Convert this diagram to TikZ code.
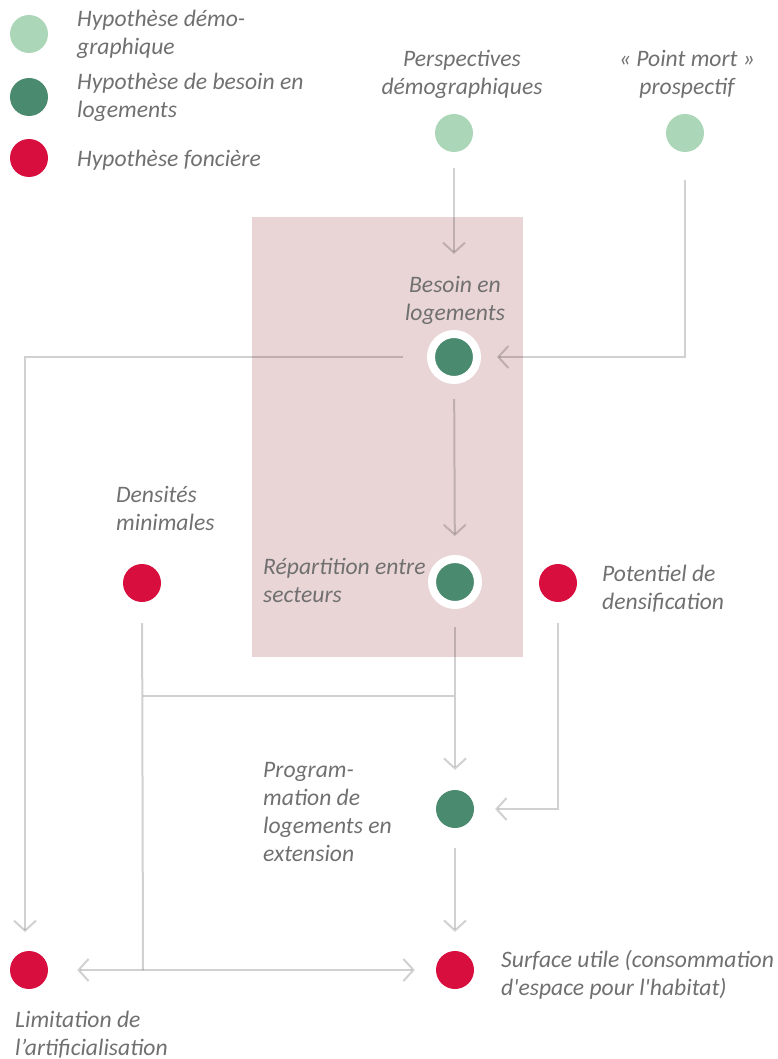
\documentclass[tikz,border=0pt]{standalone}
\usepackage{fontspec}
\setmainfont{Carlito}[Ligatures=TeXOff]
\usetikzlibrary{arrows.meta}
\definecolor{lgreen}{HTML}{ACD6B8}
\definecolor{dgreen}{HTML}{4A8A6E}
\definecolor{fred}{HTML}{D80F3E}
\definecolor{pinkbg}{HTML}{EAD5D6}
\definecolor{txt}{HTML}{707070}
\tikzset{
  dot/.style={circle,inner sep=0pt,minimum size=38pt},
  demo/.style={dot,fill=lgreen},
  need/.style={dot,fill=dgreen},
  land/.style={dot,fill=fred},
  ringed/.style={dot,fill=dgreen,draw=white,line width=8pt,minimum size=46pt},
  lbl/.style={inner sep=0pt,text=txt,font=\fontsize{23.6}{28}\selectfont\itshape},
  conn/.style={draw=black,draw opacity=0.18,line width=2pt},
  arr/.style={conn,-{Straight Barb[length=10pt,width=22pt,line width=2pt]}},
  darr/.style={conn,{Straight Barb[length=10pt,width=22pt,line width=2pt]}-{Straight Barb[length=10pt,width=22pt,line width=2pt]}}
}
\begin{document}
\begin{tikzpicture}[x=1pt,y=-1pt]
\useasboundingbox (0,0) rectangle (777,1059);
% background zone
\fill[pinkbg] (252,217) rectangle (523,657);
% legend
\node[demo] (lg1) at (29,34) {};
\node[need] (lg2) at (29,97) {};
\node[land] (lg3) at (29,158) {};
% (base anchor of a multi-line label = baseline of its last line)
\node[lbl,anchor=base west,align=left] (lt1) at (77,55) {Hypothèse démo-\\graphique};
\node[lbl,anchor=base west,align=left] (lt2) at (77,118) {Hypothèse de besoin en\\logements};
\node[lbl,anchor=base west,align=left] (lt3) at (77,167) {Hypothèse foncière};
% nodes
\node[demo] (persp) at (454,133) {};
\node[lbl,anchor=base,align=center] (tpersp) at (462,95) {Perspectives\\démographiques};
\node[demo] (mort) at (685,133) {};
\node[lbl,anchor=base,align=center] (tmort) at (687,95) {« Point mort »\\prospectif};
\node[ringed] (besoin) at (454,357) {};
\node[lbl,anchor=base,align=center] (tbesoin) at (455,320) {Besoin en\\logements};
\node[ringed] (rep) at (455,582) {};
\node[lbl,anchor=base west,align=left] (trep) at (263,602) {Répartition entre\\secteurs};
\node[land] (dens) at (142,583) {};
\node[lbl,anchor=base west,align=left] (tdens) at (116,530) {Densités\\minimales};
\node[land] (pot) at (558,583) {};
\node[lbl,anchor=base west,align=left] (tpot) at (602,609) {Potentiel de\\densification};
\node[need] (prog) at (455,809) {};
\node[lbl,anchor=base west,align=left] (tprog) at (263,861) {Program-\\mation de\\logements en\\extension};
\node[land] (lim) at (29,970) {};
\node[lbl,anchor=base west,align=left] (tlim) at (15,1055) {Limitation de\\l’artificialisation};
\node[land] (surf) at (455,970) {};
\node[lbl,anchor=base west,align=left] (tsurf) at (501,995) {Surface utile (consommation\\d'espace pour l'habitat)};
% helper coordinates
\coordinate (limtop) at (25,932);
\coordinate (jl) at (143,696);
\coordinate (jr) at (454,696);
\coordinate (jb) at (143,970);
% connectors
\draw[arr,shorten <=16pt,shorten >=76pt] (persp) -- (besoin);
\draw[arr,shorten <=28pt,shorten >=16pt] (mort) |- (besoin);
\draw[arr,shorten <=24pt] (besoin) -| (limtop);
\draw[arr,shorten <=15pt,shorten >=19pt] (besoin) -- (rep);
\draw[arr,shorten <=18pt,shorten >=20pt] (rep) -- (prog);
\draw[conn] (jl) -- (jr);
\draw[conn,shorten <=21pt] (dens) -- (jb);
\draw[arr,shorten <=21pt,shorten >=21pt] (pot) |- (prog);
\draw[arr,shorten <=20pt,shorten >=19pt] (prog) -- (surf);
\draw[darr,shorten <=29pt,shorten >=21pt] (lim) -- (surf);
\end{tikzpicture}
\end{document}
